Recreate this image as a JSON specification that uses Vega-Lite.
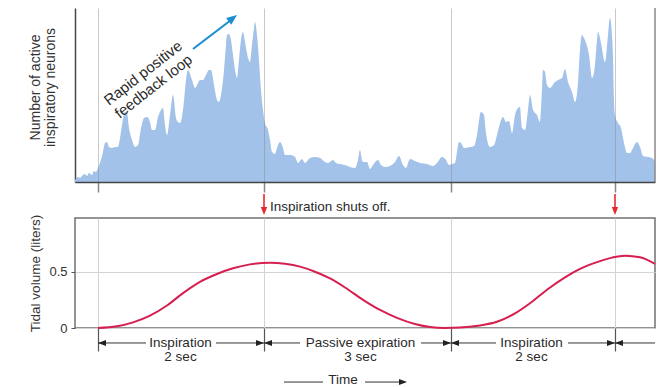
{
  "$schema": "https://vega.github.io/schema/vega-lite/v6.json",
  "padding": {"left": 28, "top": 7, "right": 6, "bottom": 0},
  "bounds": "flush",
  "spacing": 36,
  "config": {"font": "Liberation Sans", "axis": {"labelFont": "Liberation Sans", "titleFont": "Liberation Sans"}},
  "vconcat": [
    {
      "width": 580,
      "height": 174,
      "view": {"stroke": null},
      "layer": [
        {
          "data": {"values": [
            {"t":0,"n":2},{"t":3,"n":5},{"t":5,"n":4},{"t":7,"n":6},{"t":10,"n":8},{"t":12,"n":6},{"t":14,"n":9},{"t":17,"n":7},{"t":19,"n":11},{"t":21,"n":10},
            {"t":23,"n":14},{"t":25,"n":19},{"t":28,"n":30},{"t":30,"n":39},{"t":32,"n":40},{"t":34,"n":35},{"t":37,"n":34},{"t":40,"n":35},{"t":43,"n":35},{"t":45,"n":44},
            {"t":47,"n":57},{"t":50,"n":70},{"t":52,"n":69},{"t":54,"n":54},{"t":57,"n":42},{"t":60,"n":35},{"t":63,"n":37},{"t":66,"n":54},{"t":69,"n":64},{"t":72,"n":65},
            {"t":75,"n":60},{"t":77,"n":52},{"t":80,"n":52},{"t":83,"n":65},{"t":86,"n":72},{"t":88,"n":74},{"t":90,"n":57},{"t":92,"n":47},{"t":95,"n":67},{"t":98,"n":87},
            {"t":101,"n":64},{"t":103,"n":60},{"t":105,"n":59},{"t":108,"n":72},{"t":111,"n":102},{"t":113,"n":112},{"t":117,"n":102},{"t":120,"n":94},{"t":123,"n":99},{"t":125,"n":102},
            {"t":128,"n":102},{"t":131,"n":107},{"t":134,"n":112},{"t":136,"n":112},{"t":139,"n":97},{"t":142,"n":82},{"t":144,"n":80},{"t":146,"n":87},{"t":149,"n":112},{"t":151,"n":137},
            {"t":152,"n":147},{"t":154,"n":148},{"t":156,"n":142},{"t":158,"n":127},{"t":161,"n":107},{"t":162,"n":104},{"t":164,"n":122},{"t":166,"n":142},{"t":168,"n":150},{"t":170,"n":140},
            {"t":173,"n":124},{"t":175,"n":120},{"t":177,"n":137},{"t":179,"n":154},{"t":180,"n":160},{"t":182,"n":147},{"t":184,"n":122},{"t":186,"n":92},{"t":188,"n":72},{"t":190,"n":59},
            {"t":193,"n":52},{"t":195,"n":42},{"t":197,"n":30},{"t":200,"n":28},{"t":202,"n":34},{"t":205,"n":40},{"t":208,"n":34},{"t":210,"n":27},{"t":215,"n":27},{"t":220,"n":25},
            {"t":223,"n":19},{"t":227,"n":23},{"t":230,"n":19},{"t":235,"n":24},{"t":240,"n":25},{"t":245,"n":24},{"t":250,"n":20},{"t":253,"n":19},{"t":258,"n":22},{"t":261,"n":19},
            {"t":265,"n":18},{"t":270,"n":17},{"t":275,"n":15},{"t":280,"n":14},{"t":283,"n":22},{"t":285,"n":32},{"t":287,"n":22},{"t":288,"n":20},{"t":292,"n":20},{"t":295,"n":13},
            {"t":298,"n":17},{"t":303,"n":22},{"t":306,"n":17},{"t":310,"n":15},{"t":315,"n":16},{"t":320,"n":20},{"t":324,"n":26},{"t":328,"n":17},{"t":331,"n":14},{"t":335,"n":23},
            {"t":340,"n":21},{"t":345,"n":19},{"t":352,"n":18},{"t":358,"n":16},{"t":362,"n":19},{"t":367,"n":25},{"t":371,"n":22},{"t":374,"n":17},{"t":377,"n":18},{"t":380,"n":19},
            {"t":382,"n":30},{"t":384,"n":40},{"t":386,"n":39},{"t":389,"n":34},{"t":395,"n":35},{"t":399,"n":36},{"t":402,"n":47},{"t":406,"n":70},{"t":409,"n":67},{"t":411,"n":49},
            {"t":415,"n":35},{"t":419,"n":37},{"t":422,"n":47},{"t":424,"n":55},{"t":428,"n":65},{"t":431,"n":60},{"t":434,"n":61},{"t":437,"n":49},{"t":440,"n":67},{"t":443,"n":74},
            {"t":445,"n":75},{"t":447,"n":54},{"t":450,"n":52},{"t":453,"n":72},{"t":455,"n":87},{"t":458,"n":72},{"t":462,"n":67},{"t":465,"n":60},{"t":467,"n":92},{"t":468,"n":112},
            {"t":470,"n":110},{"t":472,"n":97},{"t":475,"n":94},{"t":480,"n":100},{"t":483,"n":102},{"t":487,"n":104},{"t":490,"n":113},{"t":493,"n":100},{"t":497,"n":90},{"t":500,"n":80},
            {"t":503,"n":99},{"t":505,"n":132},{"t":507,"n":147},{"t":509,"n":144},{"t":511,"n":139},{"t":514,"n":127},{"t":517,"n":104},{"t":520,"n":117},{"t":522,"n":142},{"t":523,"n":150},
            {"t":526,"n":139},{"t":530,"n":120},{"t":533,"n":147},{"t":535,"n":164},{"t":537,"n":147},{"t":538,"n":127},{"t":539,"n":82},{"t":540,"n":67},{"t":543,"n":59},{"t":546,"n":54},
            {"t":549,"n":39},{"t":552,"n":29},{"t":555,"n":29},{"t":558,"n":34},{"t":562,"n":40},{"t":565,"n":35},{"t":568,"n":26},{"t":573,"n":25},{"t":577,"n":24},{"t":580,"n":20}
          ]},
          "mark": {"type": "area", "color": "#a2c2e9", "interpolate": "monotone", "opacity": 1},
          "encoding": {
            "x": {"field": "t", "type": "quantitative", "scale": {"domain": [0, 580], "nice": false, "zero": false},
              "axis": {"title": null, "values": [23, 189, 376, 540], "labels": false, "grid": true, "gridColor": "#888", "gridOpacity": 0.45, "ticks": true, "tickSize": 10, "tickColor": "#888", "tickWidth": 1.5, "domainColor": "#444", "domainWidth": 1.5, "zindex": 1}},
            "y": {"field": "n", "type": "quantitative", "scale": {"domain": [0, 174], "nice": false},
              "axis": {"title": ["Number of active", "inspiratory neurons"], "labels": false, "ticks": false, "grid": false, "domainColor": "#444", "domainWidth": 1.5, "titleFontSize": 14, "titleFontWeight": "normal", "titleColor": "#333", "titlePadding": 18, "titleLineHeight": 15, "titleY": 79}}
          }
        },
        {
          "data": {"values": [{"t": 580, "n": 0, "n2": 174}]},
          "mark": {"type": "rule", "color": "#888", "strokeWidth": 1.5},
          "encoding": {
            "x": {"field": "t", "type": "quantitative", "scale": {"domain": [0, 580], "nice": false, "zero": false}},
            "y": {"field": "n", "type": "quantitative", "scale": {"domain": [0, 174], "nice": false}},
            "y2": {"field": "n2"}
          }
        },
        {
          "data": {"values": [{"t": 68, "n": 109, "label": ["Rapid positive", "feedback loop"]}]},
          "mark": {"type": "text", "angle": -38, "align": "center", "baseline": "middle", "fontSize": 15, "lineHeight": 17, "color": "#2a2a2a"},
          "encoding": {
            "x": {"field": "t", "type": "quantitative", "scale": {"domain": [0, 580], "nice": false, "zero": false}},
            "y": {"field": "n", "type": "quantitative", "scale": {"domain": [0, 174], "nice": false}},
            "text": {"field": "label", "type": "nominal"}
          }
        },
        {
          "data": {"values": [{"t": 118, "n": 133, "t2": 156, "n2": 162}]},
          "mark": {"type": "rule", "color": "#1c8fd2", "strokeWidth": 2.2},
          "encoding": {
            "x": {"field": "t", "type": "quantitative", "scale": {"domain": [0, 580], "nice": false, "zero": false}},
            "y": {"field": "n", "type": "quantitative", "scale": {"domain": [0, 174], "nice": false}},
            "x2": {"field": "t2"},
            "y2": {"field": "n2"}
          }
        },
        {
          "data": {"values": [{"t": 162, "n": 167}]},
          "mark": {"type": "point", "shape": "M0,0L-2,-0.8L-2,0.8Z", "angle": -37.7, "size": 110, "filled": true, "color": "#1c8fd2", "opacity": 1},
          "encoding": {
            "x": {"field": "t", "type": "quantitative", "scale": {"domain": [0, 580], "nice": false, "zero": false}},
            "y": {"field": "n", "type": "quantitative", "scale": {"domain": [0, 174], "nice": false}}
          }
        }
      ]
    },
    {
      "width": 580,
      "height": 110,
      "view": {"stroke": "#707070", "strokeWidth": 1.5},
      "layer": [
        {
          "data": {"values": [
            {"t":23,"v":0},{"t":42,"v":0.015},{"t":58,"v":0.05},{"t":75,"v":0.11},{"t":92,"v":0.2},{"t":108,"v":0.31},{"t":125,"v":0.41},{"t":142,"v":0.48},{"t":158,"v":0.53},{"t":175,"v":0.565},
            {"t":195,"v":0.58},{"t":210,"v":0.57},{"t":225,"v":0.545},{"t":240,"v":0.5},{"t":255,"v":0.44},{"t":270,"v":0.36},{"t":288,"v":0.25},{"t":305,"v":0.16},{"t":322,"v":0.09},{"t":340,"v":0.035},
            {"t":355,"v":0.008},{"t":370,"v":0},{"t":385,"v":0.004},{"t":403,"v":0.02},{"t":422,"v":0.055},{"t":440,"v":0.13},{"t":455,"v":0.22},{"t":472,"v":0.34},{"t":490,"v":0.45},{"t":505,"v":0.525},
            {"t":522,"v":0.585},{"t":537,"v":0.625},{"t":550,"v":0.642},{"t":565,"v":0.628},{"t":580,"v":0.57}
          ]},
          "mark": {"type": "line", "color": "#d61f4f", "strokeWidth": 2, "interpolate": "monotone"},
          "encoding": {
            "x": {"field": "t", "type": "quantitative", "scale": {"domain": [0, 580], "nice": false, "zero": false},
              "axis": {"title": null, "values": [23, 189, 376, 540], "labels": false, "grid": true, "gridColor": "#d3d3d3", "ticks": true, "tickSize": 23, "tickColor": "#555", "tickWidth": 1.2, "domain": false}},
            "y": {"field": "v", "type": "quantitative", "scale": {"domain": [0, 0.977], "nice": false, "zero": false},
              "axis": {"title": "Tidal volume (liters)", "values": [0, 0.5], "format": ".1~f", "grid": true, "gridColor": "#d3d3d3", "domain": false, "ticks": true, "tickSize": 4, "tickColor": "#555", "labelFontSize": 13, "labelColor": "#333", "labelPadding": 4, "titleFontSize": 13.5, "titleFontWeight": "normal", "titleColor": "#333", "titlePadding": 6}}
          }
        },
        {
          "data": {"values": [{"t": 189, "v": 1.19, "v2": 1.06}, {"t": 540, "v": 1.19, "v2": 1.06}]},
          "mark": {"type": "rule", "color": "#e42a2f", "strokeWidth": 1.6},
          "encoding": {
            "x": {"field": "t", "type": "quantitative", "scale": {"domain": [0, 580], "nice": false, "zero": false}},
            "y": {"field": "v", "type": "quantitative", "scale": {"domain": [0, 0.977], "nice": false, "zero": false}},
            "y2": {"field": "v2"}
          }
        },
        {
          "data": {"values": [
            {"t": 23, "t2": 71, "v": -0.133}, {"t": 141, "t2": 189, "v": -0.133}, {"t": 189, "t2": 225, "v": -0.133}, {"t": 346, "t2": 376, "v": -0.133},
            {"t": 376, "t2": 421, "v": -0.133}, {"t": 493, "t2": 540, "v": -0.133}, {"t": 540, "t2": 580, "v": -0.133},
            {"t": 209, "t2": 248, "v": -0.48}, {"t": 290, "t2": 330, "v": -0.48}
          ]},
          "mark": {"type": "rule", "color": "#333", "strokeWidth": 1},
          "encoding": {
            "x": {"field": "t", "type": "quantitative", "scale": {"domain": [0, 580], "nice": false, "zero": false}},
            "x2": {"field": "t2"},
            "y": {"field": "v", "type": "quantitative", "scale": {"domain": [0, 0.977], "nice": false, "zero": false}}
          }
        },
        {
          "data": {"values": [
            {"t": 23, "v": -0.133, "dir": "L"}, {"t": 189, "v": -0.133, "dir": "R"}, {"t": 189, "v": -0.133, "dir": "L"},
            {"t": 376, "v": -0.133, "dir": "R"}, {"t": 376, "v": -0.133, "dir": "L"}, {"t": 540, "v": -0.133, "dir": "R"}, {"t": 540, "v": -0.133, "dir": "L"},
            {"t": 332, "v": -0.48, "dir": "R"}, {"t": 189, "v": 1.004, "dir": "D"}, {"t": 540, "v": 1.004, "dir": "D"}
          ]},
          "mark": {"type": "point", "size": 64, "filled": true, "opacity": 1},
          "encoding": {
            "x": {"field": "t", "type": "quantitative", "scale": {"domain": [0, 580], "nice": false, "zero": false}},
            "y": {"field": "v", "type": "quantitative", "scale": {"domain": [0, 0.977], "nice": false, "zero": false}},
            "shape": {"field": "dir", "type": "nominal", "scale": {"domain": ["L", "R", "D"], "range": ["M0,0L2,-0.75L2,0.75Z", "M0,0L-2,-0.75L-2,0.75Z", "M0,0L-0.8,-2L0.8,-2Z"]}, "legend": null},
            "color": {"field": "dir", "type": "nominal", "scale": {"domain": ["L", "R", "D"], "range": ["#222", "#222", "#e42a2f"]}, "legend": null}
          }
        },
        {
          "data": {"values": [
            {"t": 105.5, "v": -0.133, "label": "Inspiration"}, {"t": 105.5, "v": -0.258, "label": "2 sec"},
            {"t": 285.5, "v": -0.133, "label": "Passive expiration"}, {"t": 285.5, "v": -0.258, "label": "3 sec"},
            {"t": 456.5, "v": -0.133, "label": "Inspiration"}, {"t": 456.5, "v": -0.258, "label": "2 sec"},
            {"t": 268, "v": -0.466, "label": "Time"}
          ]},
          "mark": {"type": "text", "align": "center", "baseline": "middle", "fontSize": 13.5, "color": "#2a2a2a"},
          "encoding": {
            "x": {"field": "t", "type": "quantitative", "scale": {"domain": [0, 580], "nice": false, "zero": false}},
            "y": {"field": "v", "type": "quantitative", "scale": {"domain": [0, 0.977], "nice": false, "zero": false}},
            "text": {"field": "label", "type": "nominal"}
          }
        },
        {
          "data": {"values": [{"t": 195, "v": 1.075, "label": "Inspiration shuts off."}]},
          "mark": {"type": "text", "align": "left", "baseline": "middle", "fontSize": 13.5, "color": "#2a2a2a"},
          "encoding": {
            "x": {"field": "t", "type": "quantitative", "scale": {"domain": [0, 580], "nice": false, "zero": false}},
            "y": {"field": "v", "type": "quantitative", "scale": {"domain": [0, 0.977], "nice": false, "zero": false}},
            "text": {"field": "label", "type": "nominal"}
          }
        }
      ]
    }
  ]
}
